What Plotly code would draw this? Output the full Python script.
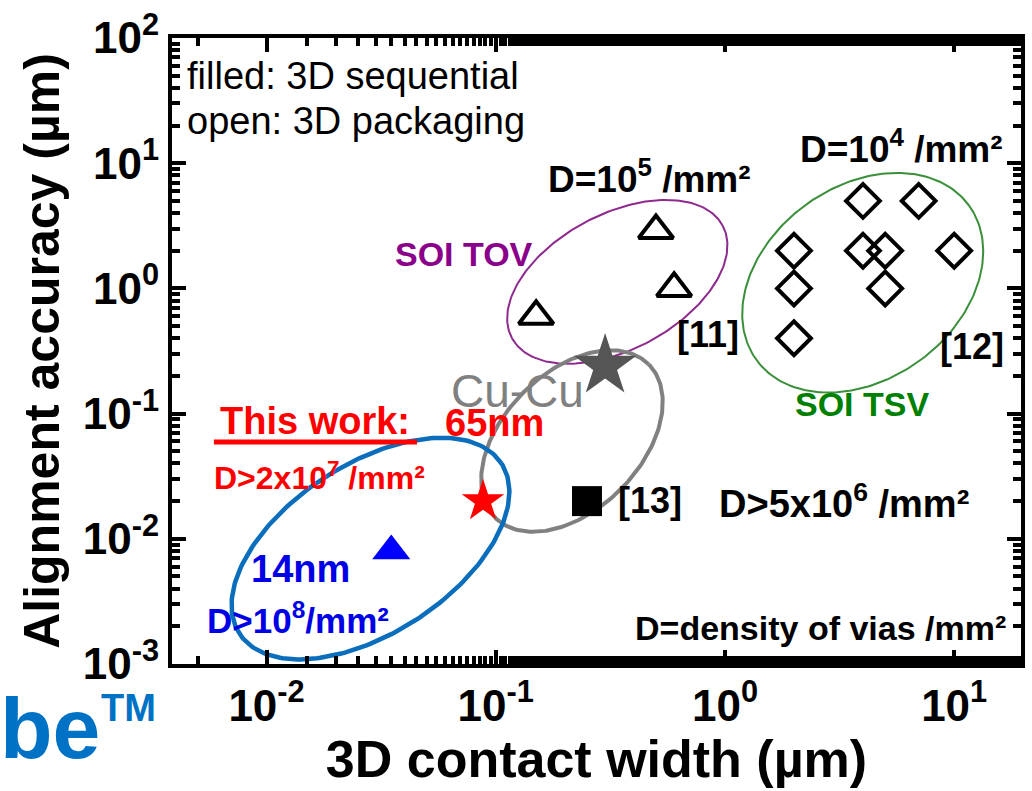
import numpy as np
import plotly.graph_objects as go

# ---- data: 3D contact width (µm) vs alignment accuracy (µm) ----
tov_width = [0.15, 0.50, 0.60]            # SOI TOV [11], open triangles
tov_align = [0.60, 2.9, 1.0]

tsv_width = [4, 7, 2, 4, 5, 10, 2, 5, 2]  # SOI TSV [12], open diamonds
tsv_align = [5, 5, 2, 2, 2, 2, 1, 1, 0.4]

ref13_width = [0.25]                      # [13], filled square
ref13_align = [0.02]

cucu_width = [0.30]                       # Cu-Cu, grey star
cucu_align = [0.24]

this_work_width = [0.088]                 # this work 65nm, red star
this_work_align = [0.02]

nm14_width = [0.035]                      # 14nm, blue triangle
nm14_align = [0.008]

x_major = [0.01, 0.1, 1, 10]
y_major = [0.001, 0.01, 0.1, 1, 10, 100]

# ---- axis geometry ----
W, H = 1032, 791
M = dict(l=172, r=7, t=35, b=127)
x_range = [-2.4125, 1.2915]   # log10
y_range = [-3, 2]             # log10
px_per_dec_x = (W - M["l"] - M["r"]) / (x_range[1] - x_range[0])
px_per_dec_y = (H - M["t"] - M["b"]) / (y_range[1] - y_range[0])

FONT = "Liberation Sans, Arial, sans-serif"


def minor_vals(lo, hi):
    """2..9 x 10^k tick positions between two decades (log10 limits)."""
    out = []
    for k in range(int(np.floor(lo)), int(np.ceil(hi)) + 1):
        for m in range(2, 10):
            v = m * 10.0 ** k
            if lo <= np.log10(v) <= hi:
                out.append(v)
    return out


# group outlines: centre (data units), semi-axes (px), tilt (deg), style
groups = [
    dict(cx=0.339, cy=1.128, a=120, b=68, tilt=28, color="#8E2A8E", lw=2),
    dict(cx=3.99, cy=1.11, a=132, b=97, tilt=36, color="#3A8F3A", lw=2),
    dict(cx=0.215, cy=0.0604, a=109, b=69, tilt=45, color="#808080", lw=4),
    dict(cx=0.0284, cy=0.00835, a=157, b=85, tilt=33, color="#0A6EBD", lw=4.5),
]

fig = go.Figure()

t = np.linspace(0, 2 * np.pi, 241)
for g in groups:
    th = np.radians(g["tilt"])
    dx = g["a"] * np.cos(t) * np.cos(th) - g["b"] * np.sin(t) * np.sin(th)
    dy = g["a"] * np.cos(t) * np.sin(th) + g["b"] * np.sin(t) * np.cos(th)
    lx = np.log10(g["cx"]) + dx / px_per_dec_x
    ly = np.log10(g["cy"]) + dy / px_per_dec_y
    fig.add_trace(go.Scatter(x=10 ** lx, y=10 ** ly, mode="lines",
                             line=dict(color=g["color"], width=g["lw"]),
                             hoverinfo="skip", showlegend=False))

fig.add_trace(go.Scatter(x=tov_width, y=tov_align, mode="markers", showlegend=False,
                         marker=dict(symbol="triangle-up-open", size=30, color="black",
                                     line=dict(color="black", width=4))))
fig.add_trace(go.Scatter(x=tsv_width, y=tsv_align, mode="markers", showlegend=False,
                         marker=dict(symbol="diamond-open", size=26, color="black",
                                     line=dict(color="black", width=4))))
fig.add_trace(go.Scatter(x=ref13_width, y=ref13_align, mode="markers", showlegend=False,
                         marker=dict(symbol="square", size=30, color="black")))
fig.add_trace(go.Scatter(x=cucu_width, y=cucu_align, mode="markers", showlegend=False,
                         marker=dict(symbol="star", size=47, color="#555555",
                                     line=dict(width=0))))
fig.add_trace(go.Scatter(x=this_work_width, y=this_work_align, mode="markers", showlegend=False,
                         marker=dict(symbol="star", size=32, color="#FF0000",
                                     line=dict(width=0))))
fig.add_trace(go.Scatter(x=nm14_width, y=nm14_align, mode="markers", showlegend=False,
                         marker=dict(symbol="triangle-up", size=33, color="#0000FF",
                                     line=dict(width=0))))


def label(text, x, y, size, color="black", bold=True, xanchor="center"):
    fig.add_annotation(x=np.log10(x), y=np.log10(y), xref="x", yref="y",
                       text=f"<b>{text}</b>" if bold else text, showarrow=False,
                       xanchor=xanchor, yanchor="middle",
                       font=dict(family=FONT, size=size, color=color))


label("filled: 3D sequential", 0.00441, 49.9, 38, bold=False, xanchor="left")
label("open: 3D packaging", 0.00441, 21.9, 38, bold=False, xanchor="left")
label("D=10<sup>5</sup> /mm²", 0.47, 7.8, 37)
label("D=10<sup>4</sup> /mm²", 5.9, 13.6, 37)
label("SOI TOV", 0.0725, 1.88, 34, color="#8B008B")
label("[11]", 0.847, 0.428, 36)
label("[12]", 11.9, 0.344, 36)
label("SOI TSV", 3.95, 0.119, 34, color="#008000")
label("Cu-Cu", 0.124, 0.151, 46, color="#808080", bold=False)
label("This work:", 0.0163, 0.0871, 38, color="#FF0000")
label("65nm", 0.0986, 0.0839, 38, color="#FF0000")
label("D>2x10<sup>7</sup> /mm²", 0.0170, 0.0318, 32, color="#FF0000")
label("[13]", 0.470, 0.0201, 36)
label("D>5x10<sup>6</sup> /mm²", 3.30, 0.0201, 38)
label("14nm", 0.01406, 0.00579, 38, color="#0000E6")
label("D>10<sup>8</sup>/mm²", 0.01365, 0.00232, 35, color="#0000E6")
label("D=density of vias /mm²", 17.2, 0.00193, 34, xanchor="right")

# underline under "This work:"
fig.add_shape(type="line", xref="x", yref="y", x0=0.00589, x1=0.0453, y0=0.0593, y1=0.0593,
              line=dict(color="#FF0000", width=5))

# watermark fragment at the lower left
plot_w = W - M["l"] - M["r"]
plot_h = H - M["t"] - M["b"]
fig.add_annotation(xref="paper", yref="paper", x=(102 - M["l"]) / plot_w,
                   y=(H - M["b"] - 728) / plot_h, xanchor="right", yanchor="middle",
                   text="<b>be</b>", showarrow=False,
                   font=dict(family=FONT, size=86, color="#0072C6"))
fig.add_annotation(xref="paper", yref="paper", x=(99 - M["l"]) / plot_w,
                   y=(H - M["b"] - 708) / plot_h, xanchor="left", yanchor="middle",
                   text="<b>TM</b>", showarrow=False,
                   font=dict(family=FONT, size=38, color="#0072C6"))


def axis(rng, major, title, title_size, minor):
    return dict(
        type="log", range=rng, showgrid=False, zeroline=False,
        showline=True, linecolor="black", linewidth=4, mirror="allticks",
        ticks="inside", ticklen=14, tickwidth=4, tickcolor="black",
        tickvals=major, ticktext=[f"10<sup>{int(np.log10(v))}</sup>" for v in major],
        tickfont=dict(family=FONT, size=44, color="black", weight="bold"),
        minor=minor,
        title=dict(text=title, standoff=8,
                   font=dict(family=FONT, size=title_size, color="black", weight="bold")),
    )


fig.update_layout(
    width=W, height=H, margin=M, plot_bgcolor="white", paper_bgcolor="white",
    showlegend=False,
    xaxis=axis(x_range, x_major, "3D contact width (µm)", 52,
               dict(ticks="inside", ticklen=8, tickwidth=3.5, tickcolor="black")),
    yaxis=axis(y_range, y_major, "Alignment accuracy (µm)", 50,
               dict(tickmode="array", tickvals=minor_vals(*y_range), ticks="inside",
                    ticklen=8, tickwidth=3.5, tickcolor="black")),
)

fig.write_html("out.html")
